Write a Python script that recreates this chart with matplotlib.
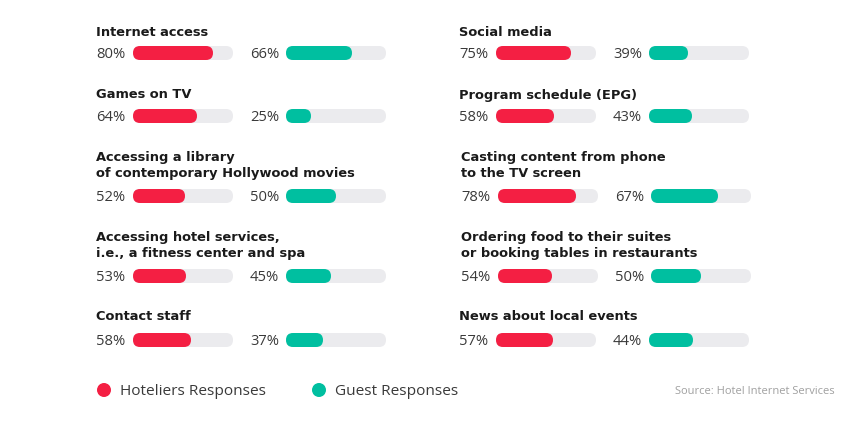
import matplotlib.pyplot as plt
from matplotlib.patches import FancyBboxPatch, Circle

# data
left_titles = ['Internet access', 'Games on TV',
               'Accessing a library\nof contemporary Hollywood movies',
               'Accessing hotel services,\ni.e., a fitness center and spa',
               'Contact staff']
left_hoteliers = [80, 64, 52, 53, 58]
left_guests = [66, 25, 50, 45, 37]

right_titles = ['Social media', 'Program schedule (EPG)',
                'Casting content from phone\nto the TV screen',
                'Ordering food to their suites\nor booking tables in restaurants',
                'News about local events']
right_hoteliers = [75, 58, 78, 54, 57]
right_guests = [39, 43, 67, 50, 44]

legend_labels = ['Hoteliers Responses', 'Guest Responses']
source_text = 'Source: Hotel Internet Services'

RED = '#F41F43'
TEAL = '#00BFA0'
TRACK = '#EBEBEE'
DARK = '#1A1A1A'
GREY = '#3A3A3A'

# layout in pixels
bar_y = [53, 116, 196, 276, 340]
title_base = [35.5, 98.5, 160.5, 240.5, 320.5]
line_gap = 16.5
bar_h = 14
track_w = 100

fig = plt.figure(figsize=(8.45, 4.22), dpi=100)
ax = fig.add_axes([0, 0, 1, 1])
ax.set_xlim(0, 845)
ax.set_ylim(422, 0)
ax.axis('off')


def draw_bar(x0, y, value, color):
    ax.add_patch(FancyBboxPatch((x0, y - bar_h / 2), track_w, bar_h,
                                boxstyle='round,pad=0,rounding_size=7',
                                fc=TRACK, ec='none'))
    ax.add_patch(FancyBboxPatch((x0, y - bar_h / 2), value / 100 * track_w, bar_h,
                                boxstyle='round,pad=0,rounding_size=7',
                                fc=color, ec='none'))


def draw_column(x, titles, hot, gst, shifts):
    for i, t in enumerate(titles):
        dx = shifts[i]
        for k, line in enumerate(t.split('\n')):
            ax.text(x + dx, title_base[i] + k * line_gap, line, fontsize=9.4,
                    fontweight='bold', color=DARK, va='baseline', ha='left',
                    family='DejaVu Sans')
        y = bar_y[i]
        ax.text(x + dx, y + 4.8, f'{hot[i]}%', fontsize=10.6, color=GREY,
                va='baseline', ha='left', family='Open Sans')
        draw_bar(x + dx + 37, y, hot[i], RED)
        ax.text(x + dx + 154, y + 4.8, f'{gst[i]}%', fontsize=10.6, color=GREY,
                va='baseline', ha='left', family='Open Sans')
        draw_bar(x + dx + 190, y, gst[i], TEAL)


draw_column(96, left_titles, left_hoteliers, left_guests, [0, 0, 0, 0, 0])
draw_column(459, right_titles, right_hoteliers, right_guests, [0, 0, 2, 2, 0])

# legend
for cx, tx, col, lab in zip([104, 319], [120, 335], [RED, TEAL], legend_labels):
    ax.add_patch(Circle((cx, 390), 7, fc=col, ec='none'))
    ax.text(tx, 395, lab, fontsize=11.1, color=GREY, va='baseline',
            ha='left', family='Open Sans')

ax.text(835, 394, source_text, fontsize=8, color='#A0A0A0', va='baseline',
        ha='right', family='Open Sans')

fig.savefig('out.png', dpi=100)
